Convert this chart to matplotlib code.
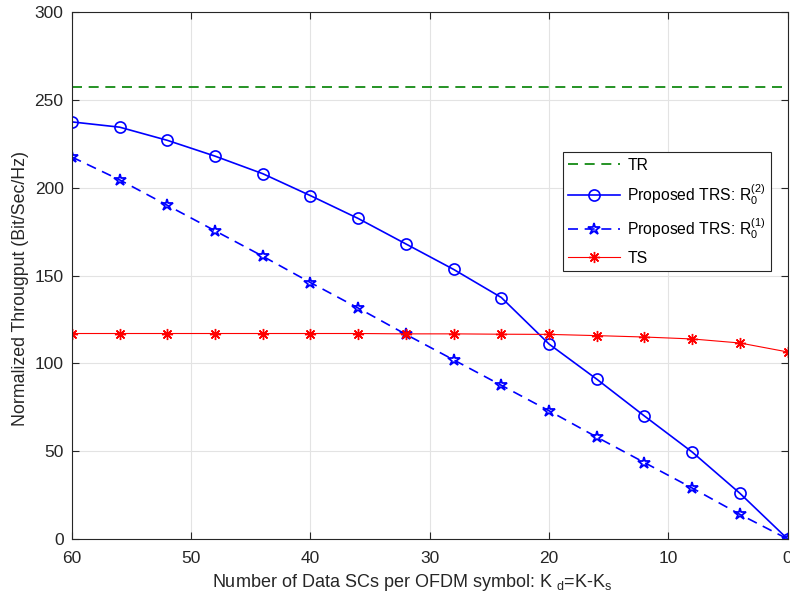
import matplotlib.pyplot as plt

plt.rcParams['font.family'] = ['Liberation Sans', 'DejaVu Sans']
plt.rcParams['mathtext.fontset'] = 'custom'
plt.rcParams['mathtext.rm'] = 'Liberation Sans'
plt.rcParams['mathtext.it'] = 'Liberation Sans'

# data
kd = [60, 56, 52, 48, 44, 40, 36, 32, 28, 24, 20, 16, 12, 8, 4, 0]
tr = [257.5] * len(kd)
trs2 = [237.5, 234.5, 227, 218, 208, 195.5, 182.5, 168, 153.5, 137.5, 111, 91, 70, 49.5, 26, 0]
trs1 = [217.5, 204.5, 190, 175.5, 161, 146, 131.5, 116.5, 102, 87.5, 73, 58, 43.5, 29, 14, 0]
ts = [117, 117, 117, 117, 117, 117, 117, 116.8, 116.8, 116.6, 116.5, 115.8, 115, 113.9, 111.6, 106.5]

fig = plt.figure(figsize=(7.9, 5.98), dpi=100)
ax = fig.add_axes([0.091, 0.0987, 0.906, 0.881])

ax.plot(kd, tr, '--', color='#008000', lw=1.2, dashes=(6, 4), label='TR')
ax.plot(kd, trs2, '-', color='#0000ff', lw=1.2, marker='o', ms=8, mfc='none', mew=1.2,
        label='Proposed TRS: R$_0^{(2)}$')
ax.plot(kd, trs1, '--', color='#0000ff', lw=1.2, dashes=(6, 4), marker='*', ms=9, mfc='none', mew=1.3,
        label='Proposed TRS: R$_0^{(1)}$')
ax.plot(kd, ts, '-', color='#ff0000', lw=0.8, marker=(8, 2, 0), ms=8, mew=1.0, label='TS')

ax.set_xlim(60, 0)
ax.set_ylim(0, 300)
ax.set_xticks(range(60, -1, -10))
ax.set_yticks(range(0, 301, 50))
ax.grid(True, color='#e3e3e3', lw=0.8)
ax.set_axisbelow(True)
for s in ax.spines.values():
    s.set_color('#262626')
    s.set_linewidth(0.8)
ax.tick_params(direction='in', top=True, right=True, labelsize=12.5, colors='#262626', length=5)
ax.tick_params(axis='x', pad=8.5)
ax.tick_params(axis='y', pad=6)

ax.set_xlabel('Number of Data SCs per OFDM symbol: K $_{\\rm d}$=K-K$_{\\rm s}$', fontsize=13, color='#262626')
ax.xaxis.set_label_coords(0.475, -0.062)
ax.set_ylabel('Normalized Througput (Bit/Sec/Hz)', fontsize=12.8, color='#262626')
ax.yaxis.set_label_coords(-0.06, 0.475)

leg = ax.legend(loc='upper left', bbox_to_anchor=(0.686, 0.734), borderaxespad=0, fancybox=False, fontsize=11.3,
                edgecolor='#262626', framealpha=1, handlelength=3.3, borderpad=0.35, labelspacing=0.6,
                handletextpad=0.45)
leg.get_frame().set_linewidth(0.8)

fig.savefig('out.png', dpi=100)
